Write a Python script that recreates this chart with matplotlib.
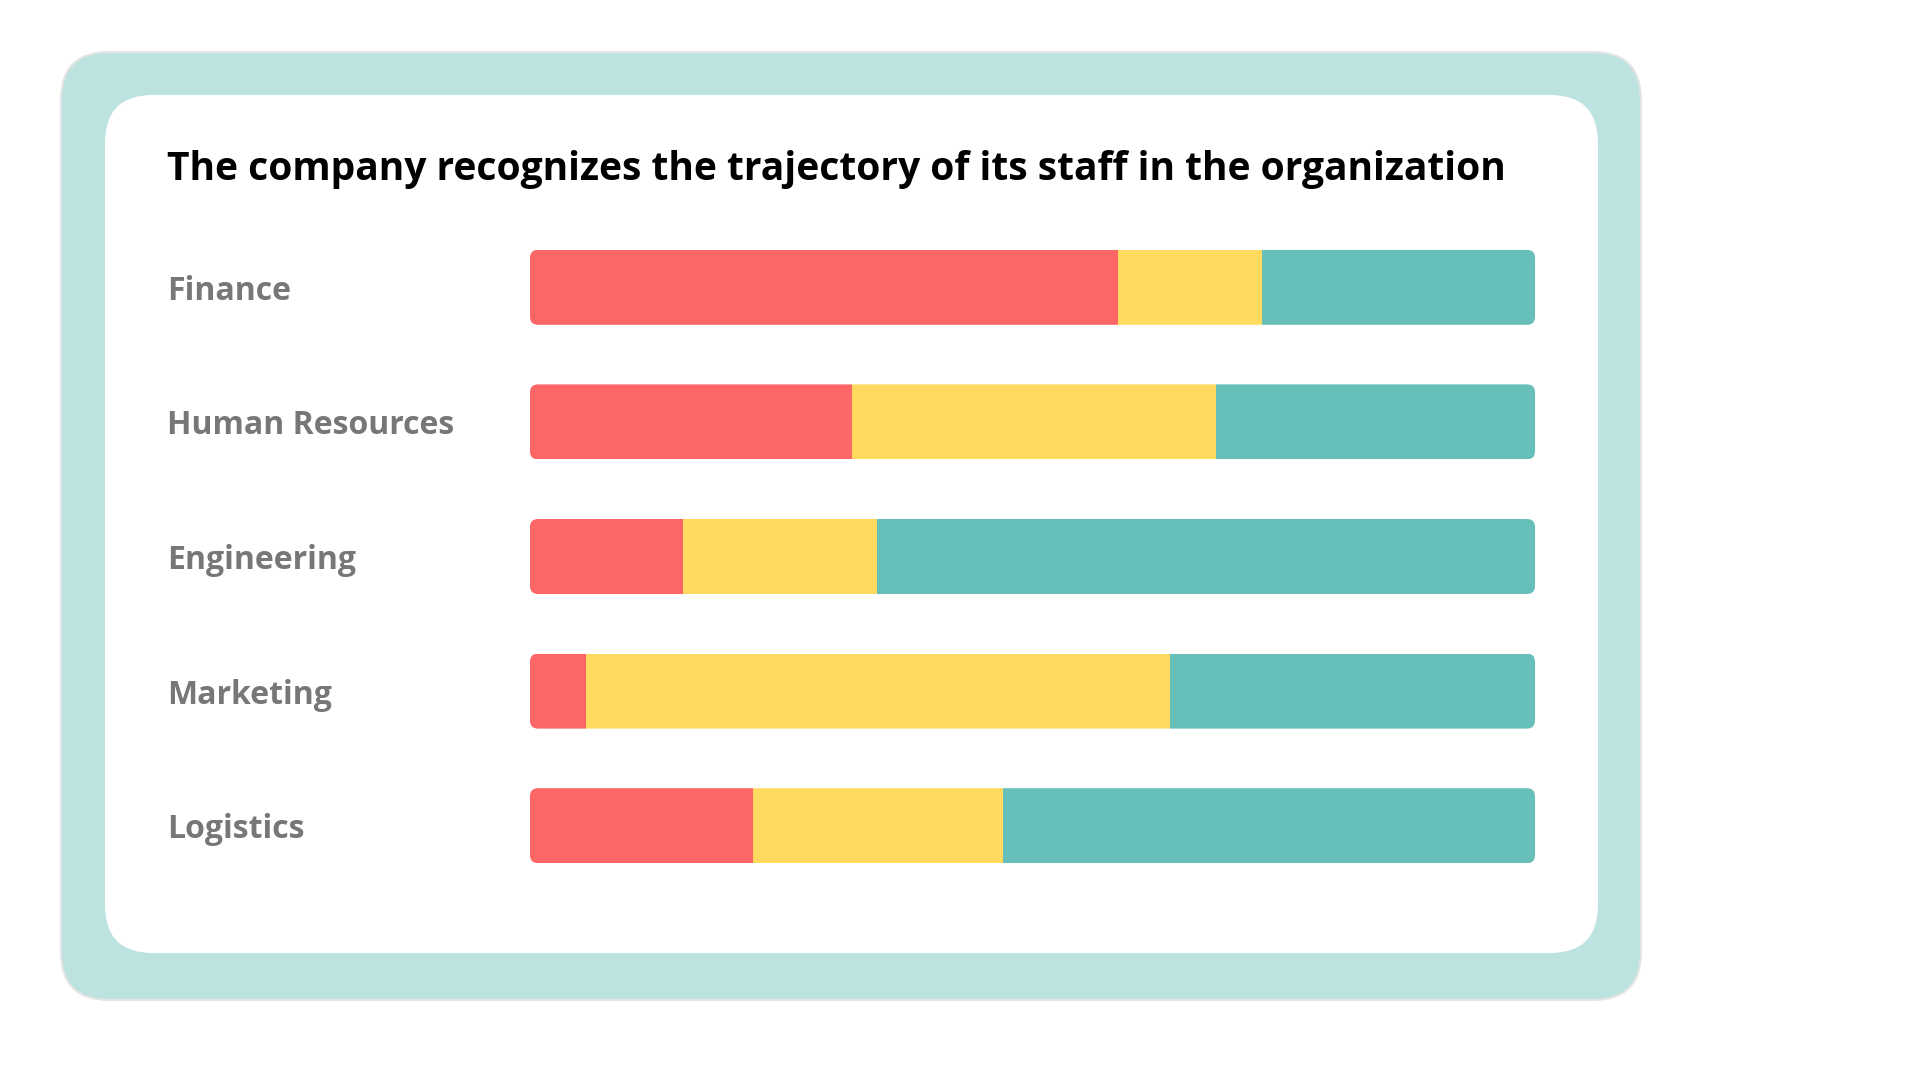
import numpy as np
import matplotlib
matplotlib.use('Agg')
import matplotlib.pyplot as plt
from matplotlib.patches import FancyBboxPatch

# data (share of staff, %)
departments = ['Finance', 'Human Resources', 'Engineering', 'Marketing', 'Logistics']
seg_red = [58.5, 32.0, 15.2, 5.6, 22.2]
seg_yellow = [14.3, 36.3, 19.3, 58.1, 24.9]
seg_teal = [27.2, 31.7, 65.5, 36.3, 52.9]
title = 'The company recognizes the trajectory of its staff in the organization'

colors = ['#FC6666', '#FFDA5E', '#67BFB9']
fam = ['Open Sans', 'DejaVu Sans']

W, H = 1920, 1080
fig = plt.figure(figsize=(W / 100, H / 100), dpi=100)
fig.patch.set_facecolor('white')

# background card, drawn in pixel coords
bg = fig.add_axes([0, 0, 1, 1])
bg.set_xlim(0, W)
bg.set_ylim(H, 0)
bg.axis('off')
outer = FancyBboxPatch((61 + 48, 52 + 48), 1580 - 96, 948 - 96,
                       boxstyle='round,pad=48', fc='#BDE3E0', ec='#E4E4E4', lw=1.5)
inner = FancyBboxPatch((105 + 48, 95 + 48), 1493 - 96, 858 - 96,
                       boxstyle='round,pad=48', fc='white', ec='none')
bg.add_patch(outer)
bg.add_patch(inner)
bg.text(167, 180, title, fontsize=28.1, fontweight='bold', color='black',
        family=fam, va='baseline', ha='left')

# bar area
ax_l, ax_r = 530, 1535
ax_t, ax_b = 220, 893
ax = fig.add_axes([ax_l / W, 1 - ax_b / H, (ax_r - ax_l) / W, (ax_b - ax_t) / H])
ax.set_facecolor('none')
n = len(departments)
y = np.arange(n)
bh = 75 / 134.6

red = np.array(seg_red)
yel = np.array(seg_yellow)
tea = np.array(seg_teal)
totals = red + yel + tea

bars = []
bars += list(ax.barh(y, red, height=bh, color=colors[0], lw=0))
bars += list(ax.barh(y, yel, left=red, height=bh, color=colors[1], lw=0))
bars += list(ax.barh(y, tea, left=red + yel, height=bh, color=colors[2], lw=0))

ax.set_xlim(0, 100)
ax.set_ylim(n - 0.5, -0.5)

# rounded outline of every stacked bar, used as clip
ux = 100 / (ax_r - ax_l)
uy = n / (ax_b - ax_t)
aspect = uy / ux
r = 8 * ux
clips = []
for i in range(n):
    c = FancyBboxPatch((0 + r, i - bh / 2 + r * aspect), totals[i] - 2 * r, bh - 2 * r * aspect,
                       boxstyle='round,pad=%f' % r, mutation_aspect=aspect,
                       transform=ax.transData, fc='none', ec='none')
    clips.append(c)
for k, b in enumerate(bars):
    b.set_clip_path(clips[k % n])

ax.set_yticks(y)
ax.set_yticklabels(departments, fontsize=23, fontweight='bold', color='#777777',
                   family=fam, ha='left', va='center_baseline')
ax.tick_params(axis='y', length=0, pad=(ax_l - 167) * 0.72)
ax.set_xticks([])
for s in ax.spines.values():
    s.set_visible(False)

fig.savefig('out.png', dpi=100, facecolor='white')
